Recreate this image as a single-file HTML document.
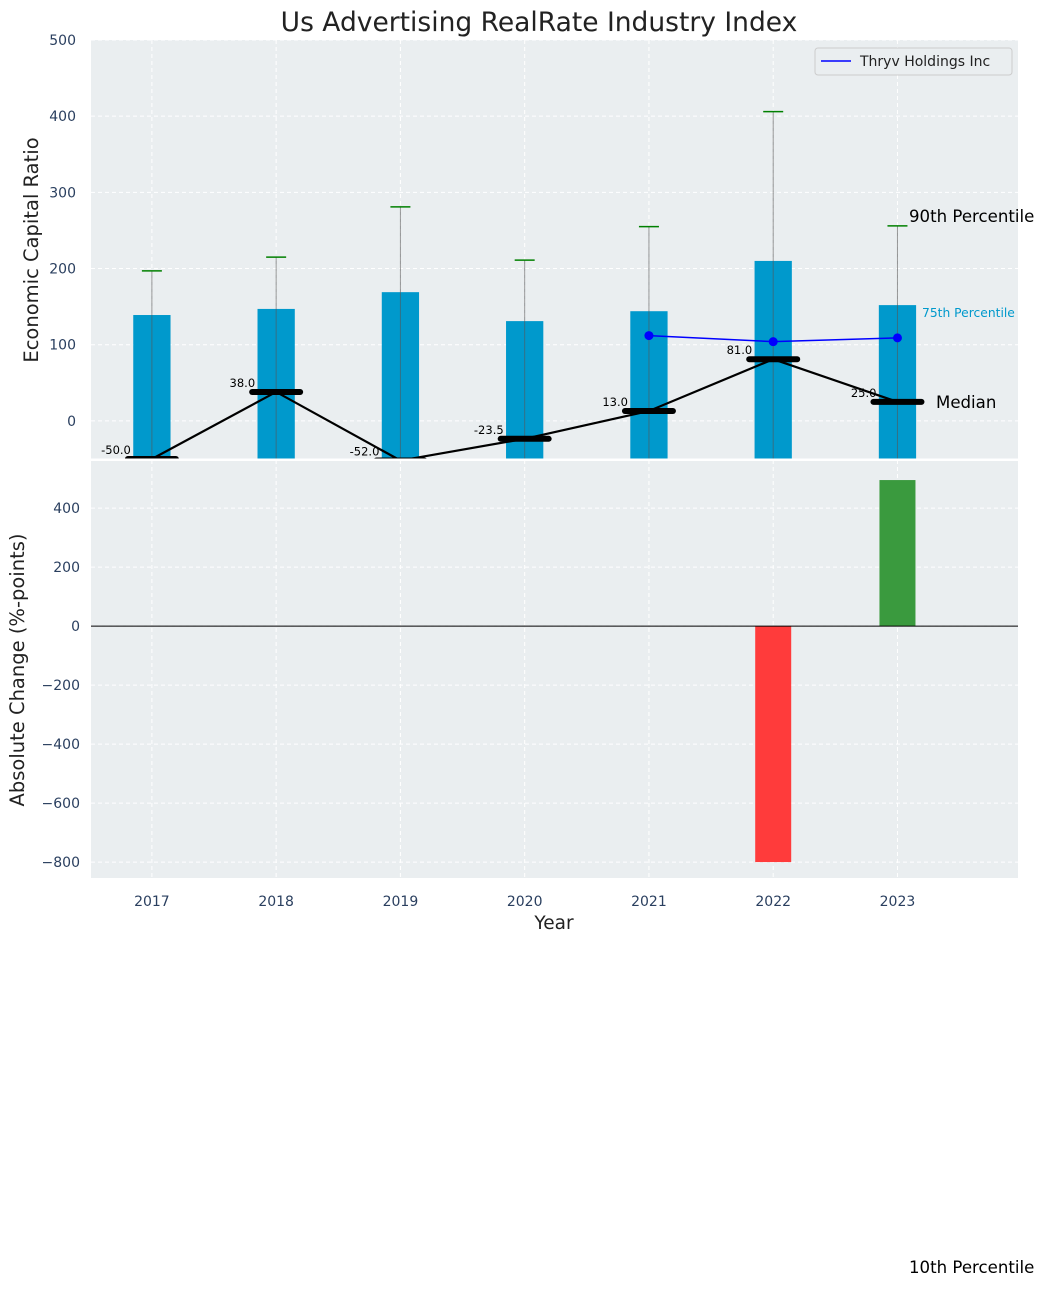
<!DOCTYPE html>
<html><head><meta charset="utf-8"><style>
body{margin:0;background:#fff;font-family:"Liberation Sans","DejaVu Sans",sans-serif}
svg text{font-family:"DejaVu Sans","Liberation Sans",sans-serif}
</style></head><body>
<svg id="c" width="1044" height="1287" xmlns="http://www.w3.org/2000/svg"></svg>
<script>
const years=[2017,2018,2019,2020,2021,2022,2023];
const p75=[139,147,169,131,144,210,152];
const p90=[197,215,281,211,255,406,256];
const median=[-50,38,-52,-23.5,13,81,25];
const medianLabels=["-50.0","38.0","-52.0","-23.5","13.0","81.0","25.0"];
const thryvYears=[2021,2022,2023];
const thryv=[112,104,109];
const changeYears=[2022,2023];
const changeVals=[-800,495];
const topTicks=[0,100,200,300,400,500];
const botTicks=[-800,-600,-400,-200,0,200,400];

const NS="http://www.w3.org/2000/svg";
const svg=document.getElementById('c');
function el(t,a,p){const e=document.createElementNS(NS,t);for(const k in a)e.setAttribute(k,a[k]);(p||svg).appendChild(e);return e;}
const L=91,R=1018;
const x=v=>L+(v-2016.51)/(2023.97-2016.51)*(R-L);
const T0=40,T1=459; const yt=v=>T0+(500-v)/(500+50)*(T1-T0);
const B0=460,B1=878; const yb=v=>B0+(563-v)/(563+854)*(B1-B0);

let r=el('rect',{x:L,y:T0,width:R-L,height:T1-T0,fill:'#eaeef0'});

r=el('rect',{x:L,y:B0+1,width:R-L,height:B1-B0-1,fill:'#eaeef0'});

years.forEach(v=>{el('line',{x1:x(v),x2:x(v),y1:T0,y2:T1,stroke:'#fff','stroke-dasharray':'4,3'});el('line',{x1:x(v),x2:x(v),y1:B0,y2:B1,stroke:'#fff','stroke-dasharray':'4,3'});});
topTicks.forEach(v=>{el('line',{x1:L,x2:R,y1:yt(v),y2:yt(v),stroke:'#fff','stroke-dasharray':'4,3'});
 const t=el('text',{x:76,y:yt(v)+5,'text-anchor':'end','font-size':14,fill:'#2a3f5f'});t.textContent=v;
 });
botTicks.forEach(v=>{el('line',{x1:L,x2:R,y1:yb(v),y2:yb(v),stroke:'#fff','stroke-dasharray':'4,3'});
 const t=el('text',{x:80,y:yb(v)+5,'text-anchor':'end','font-size':14,fill:'#2a3f5f'});t.textContent=v<0?'\u2212'+(-v):v;
 });
const bw=x(2017.15)-x(2017);
years.forEach((yr,i)=>{
 const b=el('rect',{x:x(yr)-bw,y:yt(p75[i]),width:2*bw,height:yt(-50)-yt(p75[i]),fill:'#0099cc'});
 
 el('line',{x1:x(yr),x2:x(yr),y1:yt(-50),y2:yt(p90[i]),stroke:'#555','stroke-opacity':0.6,'stroke-width':1});
 const c=el('line',{x1:x(yr)-10,x2:x(yr)+10,y1:yt(p90[i]),y2:yt(p90[i]),stroke:'green','stroke-width':1.5});
 
});
const clip=el('clipPath',{id:'tc'});el('rect',{x:L-20,y:T0,width:R-L+40,height:T1-T0+1},clip);
const g=el('g',{'clip-path':'url(#tc)'});
const ml=el('polyline',{points:years.map((yr,i)=>x(yr)+','+yt(median[i])).join(' '),fill:'none',stroke:'#000','stroke-width':2.2},g);

years.forEach((yr,i)=>{
 const m=el('line',{x1:x(yr)-24,x2:x(yr)+24,y1:yt(median[i]),y2:yt(median[i]),stroke:'#000','stroke-width':6,'stroke-linecap':'round'},g);
 
 const t=el('text',{x:x(yr)-21,y:yt(median[i])-5,'text-anchor':'end','font-size':11.5,fill:'#000'});t.textContent=medianLabels[i];
 
});
const tl=el('polyline',{points:thryvYears.map((yr,i)=>x(yr)+','+yt(thryv[i])).join(' '),fill:'none',stroke:'blue','stroke-width':1.5});

thryvYears.forEach((yr,i)=>{const c=el('circle',{cx:x(yr),cy:yt(thryv[i]),r:4.5,fill:'blue'});
 });
el('line',{x1:L,x2:R,y1:459.5,y2:459.5,stroke:'#fff','stroke-width':2});
changeYears.forEach((yr,i)=>{const v=changeVals[i];
 const b=el('rect',{x:x(yr)-18,y:Math.min(yb(0),yb(v)),width:36,height:Math.abs(yb(v)-yb(0)),fill:v<0?'#ff3b3b':'#3a9a3e'});
 });
el('line',{x1:L,x2:R,y1:yb(0),y2:yb(0),stroke:'#000','stroke-width':1});
years.forEach(yr=>{const t=el('text',{x:x(yr),y:906,'text-anchor':'middle','font-size':14,fill:'#2a3f5f'});t.textContent=yr;
 });
function txt(s,a,name){const t=el('text',a);t.textContent=s;return t;}
txt('Us Advertising RealRate Industry Index',{x:539,y:31,'text-anchor':'middle','font-size':26.5,fill:'#222'},'chart-title');
txt('Year',{x:554,y:929,'text-anchor':'middle','font-size':18.5,fill:'#222'},'x-axis-title');
txt('Economic Capital Ratio',{x:0,y:0,'text-anchor':'middle','font-size':19.5,fill:'#222',transform:'translate(38,250) rotate(-90)'},'y-axis-title-top');
txt('Absolute Change (%-points)',{x:0,y:0,'text-anchor':'middle','font-size':19.5,fill:'#222',transform:'translate(24,670) rotate(-90)'},'y-axis-title-bottom');
txt('90th Percentile',{x:909,y:222,'font-size':16.6,fill:'#000'},'label-90th');
txt('75th Percentile',{x:922,y:317,'font-size':12.3,fill:'#0099cc'},'label-75th');
txt('Median',{x:936,y:408,'font-size':16.6,fill:'#000'},'label-median');
txt('10th Percentile',{x:909,y:1273,'font-size':16.6,fill:'#000'},'label-10th');
const lg=el('g',{});
el('rect',{x:815,y:48,width:197,height:27,rx:3,fill:'#eaeef0',stroke:'#ccc'},lg);
el('line',{x1:821,x2:851,y1:61,y2:61,stroke:'blue','stroke-width':1.5},lg);
const lt=el('text',{x:860,y:66,'font-size':14,fill:'#222'},lg);lt.textContent='Thryv Holdings Inc';

</script>
</body></html>
